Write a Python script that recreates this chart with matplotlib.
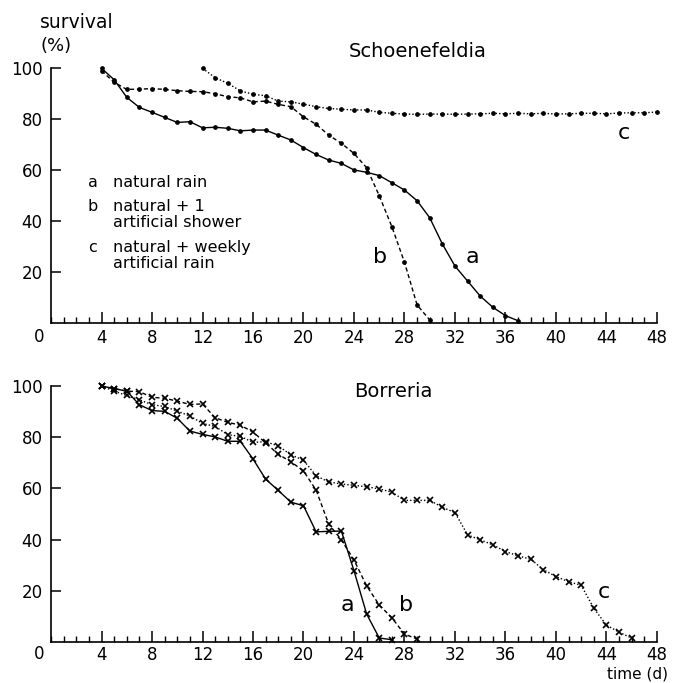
import numpy as np
import matplotlib
matplotlib.use("Agg")
import matplotlib.pyplot as plt
from matplotlib.ticker import MultipleLocator

# Schoenefeldia (top), survival in % per day
sch_a_days = list(range(4, 38))
sch_a = [100, 95.5, 88.6, 84.6, 82.7, 80.7, 78.7, 79.0, 76.6, 76.8, 76.4, 75.4,
         75.7, 75.7, 73.7, 71.8, 68.8, 66.1, 63.9, 62.6, 60.0, 59.1, 57.8, 55.0,
         52.1, 47.9, 41.2, 30.9, 22.2, 16.3, 10.4, 6.0, 2.7, 0.7]
sch_b_days = list(range(4, 31))
sch_b = [99, 94.5, 91.7, 91.8, 92.0, 91.7, 91.2, 90.9, 90.8, 90.0, 88.8, 88.4,
         86.8, 87.1, 85.8, 84.9, 80.9, 78.0, 73.7, 70.5, 66.5, 60.9, 49.9, 37.7,
         23.7, 6.9, 1.0]
sch_c_days = list(range(12, 49))
sch_c = [100, 96.3, 94.1, 91.1, 89.8, 89.2, 87.1, 86.8, 85.9, 84.9, 84.2, 83.9,
         83.6, 83.6, 82.7, 82.3, 82.0, 81.9, 82.0, 82.0, 81.9, 82.0, 82.1, 82.3,
         82.1, 82.3, 82.1, 82.3, 82.0, 82.1, 82.3, 82.3, 82.1, 82.4, 82.5, 82.5,
         82.8]

# Borreria (bottom)
bor_a_days = list(range(4, 28))
bor_a = [100, 99, 98, 92.7, 90.4, 90.1, 87.4, 82.4, 81.1, 80.1, 78.4, 78.4,
         71.5, 63.6, 59.2, 54.6, 53.2, 43.0, 43.2, 43.3, 27.8, 10.9, 1.5, 0.8]
bor_b_days = list(range(4, 30))
bor_b = [100, 99, 98, 97.8, 95.6, 95.2, 94.1, 92.8, 93.0, 87.6, 85.8, 84.7,
         82.0, 77.8, 73.3, 70.4, 66.8, 59.3, 46.0, 39.9, 32.0, 21.9, 14.4, 9.4,
         3.0, 1.1]
bor_c_days = list(range(4, 47))
bor_c = [100, 98, 96.3, 94.6, 92.7, 92.0, 90.2, 88.3, 85.4, 84.2, 81.0, 80.3,
         78.0, 78.2, 76.6, 73.1, 71.0, 64.9, 62.5, 61.7, 61.2, 60.6, 59.8, 58.5,
         55.3, 55.3, 55.3, 52.6, 50.5, 41.8, 39.9, 37.9, 35.3, 33.6, 32.3, 28.2,
         25.5, 23.5, 22.1, 13.1, 6.5, 3.8, 1.4]

xticks = list(range(4, 49, 4))
yticks = [20, 40, 60, 80, 100]

plt.rcParams['font.family'] = ['DejaVu Sans']

fig = plt.figure(figsize=(6.74, 6.83), dpi=100)
ax1 = fig.add_axes([0.0757, 0.5278, 0.899, 0.3722])
ax2 = fig.add_axes([0.0757, 0.0603, 0.899, 0.3745])

def style_axes(ax, xpad, zero_y):
    ax.set_xlim(0, 48)
    ax.set_ylim(0, 100)
    for s in ['top', 'right']:
        ax.spines[s].set_visible(False)
    for s in ['left', 'bottom']:
        ax.spines[s].set_linewidth(1.2)
    ax.set_xticks(xticks)
    ax.set_xticklabels([str(t) for t in xticks])
    ax.xaxis.set_minor_locator(MultipleLocator(1))
    ax.set_yticks(yticks)
    ax.set_yticklabels([str(t) for t in yticks])
    ax.tick_params(axis='x', which='major', direction='in', length=8, width=1.1,
                   pad=xpad, labelsize=12)
    ax.tick_params(axis='x', which='minor', direction='in', length=4, width=1.0)
    ax.tick_params(axis='y', which='major', direction='in', length=7, width=1.1,
                   pad=6, labelsize=12)
    ax.text(-0.95, zero_y, "0", ha='center', va='center', fontsize=12)

style_axes(ax1, 5, -5.6)
style_axes(ax2, 3, -4.8)

# top panel
kw = dict(color='black', lw=1.0, marker='o', ms=2.4, clip_on=False)
ax1.plot(sch_a_days, sch_a, ls='-', **kw)
ax1.plot(sch_b_days, sch_b, ls=(0, (3, 2)), **kw)
ax1.plot(sch_c_days, sch_c, ls=(0, (1, 1.5)), **kw)

ax1.text(23.6, 106.5, "Schoenefeldia", ha='left', va='center', fontsize=14)
ax1.text(26.1, 25.9, "b", ha='center', va='center', fontsize=16)
ax1.text(33.4, 25.9, "a", ha='center', va='center', fontsize=16)
ax1.text(45.4, 74.4, "c", ha='center', va='center', fontsize=16)

fs = 11.5
ax1.text(3.3, 54.9, "a", ha='center', va='center', fontsize=fs)
ax1.text(4.9, 54.9, "natural rain", ha='left', va='center', fontsize=fs)
ax1.text(3.3, 45.8, "b", ha='center', va='center', fontsize=fs)
ax1.text(4.9, 45.8, "natural + 1", ha='left', va='center', fontsize=fs)
ax1.text(4.9, 39.5, "artificial shower", ha='left', va='center', fontsize=fs)
ax1.text(3.3, 29.7, "c", ha='center', va='center', fontsize=fs)
ax1.text(4.9, 29.7, "natural + weekly", ha='left', va='center', fontsize=fs)
ax1.text(4.9, 23.4, "artificial rain", ha='left', va='center', fontsize=fs)

# bottom panel
kw2 = dict(color='black', lw=1.0, marker='x', ms=4, mew=1.2, clip_on=False)
ax2.plot(bor_a_days, bor_a, ls='-', **kw2)
ax2.plot(bor_b_days, bor_b, ls=(0, (3, 2)), **kw2)
ax2.plot(bor_c_days, bor_c, ls=(0, (1, 1.5)), **kw2)

ax2.text(24.0, 97.8, "Borreria", ha='left', va='center', fontsize=14)
ax2.text(23.5, 14.4, "a", ha='center', va='center', fontsize=16)
ax2.text(28.1, 14.4, "b", ha='center', va='center', fontsize=16)
ax2.text(43.8, 19.6, "c", ha='center', va='center', fontsize=16)

fig.text(40 / 674, 1 - 22 / 683, "survival", ha='left', va='center', fontsize=13.5)
fig.text(40 / 674, 1 - 46 / 683, "(%)", ha='left', va='center', fontsize=13)
fig.text(668 / 674, 1 - 674 / 683, "time (d)", ha='right', va='center', fontsize=11)

fig.savefig("out.png", dpi=100)
